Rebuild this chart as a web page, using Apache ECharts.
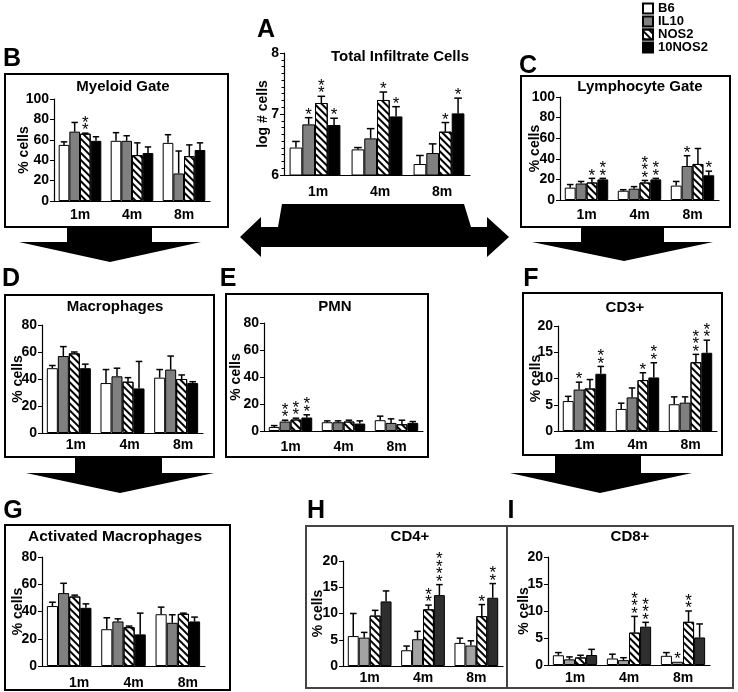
<!DOCTYPE html>
<html><head><meta charset="utf-8">
<script src="https://cdn.jsdelivr.net/npm/echarts@6/dist/echarts.min.js"></script>
<style>html,body{margin:0;padding:0;background:#fff}#c{width:738px;height:692px}</style>
</head><body><div id="c"></div>
<script>
// ---------- data ----------
const months = ['1m', '4m', '8m'];
const strains = ['B6', 'IL10', 'NOS2', '10NOS2'];

// rows: B6, IL10, NOS2, 10NOS2 ; columns: 1m, 4m, 8m
const A_mean = [[6.45, 6.42, 6.18], [6.83, 6.60, 6.36], [7.18, 7.23, 6.71], [6.82, 6.96, 7.01]];
const A_err  = [[6.55, 6.45, 6.32], [6.94, 6.76, 6.51], [7.29, 7.36, 6.86], [6.93, 7.12, 7.26]];
const A_star = [[0, 0, 0], [1, 0, 0], [2, 1, 1], [1, 1, 1]];

const B_mean = [[55, 59, 57], [68, 59, 27], [66, 45, 44], [59, 47, 50]];
const B_err  = [[58, 67, 65], [77, 64, 49], [66.5, 57, 55], [63, 53, 57]];
const B_star = [[0, 0, 0], [0, 0, 0], [2, 0, 0], [0, 0, 0]];

const C_mean = [[12, 9, 14], [16, 11, 33], [17, 17, 35], [20, 20, 24]];
const C_err  = [[15, 10, 18], [18, 13, 43], [21, 19, 50], [21, 21, 28]];
const C_star = [[0, 0, 0], [0, 0, 1], [1, 3, 0], [2, 2, 1]];

const D_mean = [[48, 37, 41], [57, 42, 47], [59, 38, 40], [48, 33, 37]];
const D_err  = [[50, 47, 47], [64, 48, 57], [60, 41, 43], [51, 53, 38]];
const D_star = [[0, 0, 0], [0, 0, 0], [0, 0, 0], [0, 0, 0]];

const E_mean = [[3, 6.5, 8], [7, 6.5, 6], [8.5, 7, 5], [10, 5.5, 6]];
const E_err  = [[4, 7.5, 11], [8, 7.5, 9], [9.5, 8, 8], [12, 7.5, 7]];
const E_star = [[0, 0, 0], [2, 0, 0], [2, 0, 0], [2, 0, 0]];

const F_mean = [[5.7, 4.2, 5.1], [7.9, 6.4, 5.4], [8.1, 9.7, 13.1], [10.9, 10.2, 14.9]];
const F_err  = [[6.6, 5.3, 6.5], [9.3, 8.2, 6.5], [9.8, 11.1, 14.6], [12.3, 13.0, 17.3]];
const F_star = [[0, 0, 0], [1, 0, 0], [0, 1, 3], [2, 2, 2]];

const G_mean = [[44, 27, 38], [53.5, 32.7, 31.7], [51, 28.5, 38.3], [42.7, 23.2, 32.7]];
const G_err  = [[46.8, 35.4, 43.2], [60.7, 34.6, 37.6], [52, 29.3, 38.8], [45.6, 38.8, 35.9]];
const G_star = [[0, 0, 0], [0, 0, 0], [0, 0, 0], [0, 0, 0]];

const H_mean = [[5.7, 3.0, 4.4], [5.4, 5.1, 3.9], [9.6, 10.8, 9.5], [12.3, 13.5, 13.0]];
const H_err  = [[10, 3.8, 5.3], [6.4, 6.6, 4.8], [10.6, 11.6, 11.7], [14.3, 15.5, 15.7]];
const H_star = [[0, 0, 0], [0, 0, 0], [0, 2, 1], [0, 4, 2]];

const I_mean = [[1.8, 1.2, 1.7], [1.05, 0.9, 0.6], [1.4, 6.0, 8.0], [1.85, 7.1, 5.1]];
const I_err  = [[2.3, 2.0, 2.3], [1.5, 1.35, 0.6], [1.8, 9.0, 10.0], [2.9, 7.9, 7.6]];
const I_star = [[0, 0, 0], [0, 0, 1], [0, 3, 2], [0, 3, 0]];

// ---------- layout ----------
const FONT = "'Liberation Sans', Arial, sans-serif";
const NARROW = "'Liberation Sans Narrow', 'Liberation Sans', Arial, sans-serif";
const GAP = 0.18;

const panels = [
  { mean: A_mean, err: A_err, star: A_star, min: 6, max: 8, interval: 1, name: 'log # cells', nameGap: 14,
    grid: { left: 284, top: 53, width: 186, height: 122 }, margin: 10, shift: 3, minor: true },
  { mean: B_mean, err: B_err, star: B_star, min: 0, max: 100, interval: 20, name: '% cells', nameGap: 23,
    grid: { left: 54, top: 99, width: 156, height: 102 }, margin: 7, shift: 0 },
  { mean: C_mean, err: C_err, star: C_star, min: 0, max: 100, interval: 20, name: '% cells', nameGap: 18,
    grid: { left: 560, top: 97, width: 159, height: 103 }, margin: 8, shift: 0 },
  { mean: D_mean, err: D_err, star: D_star, min: 0, max: 80, interval: 20, name: '% cells', nameGap: 17,
    grid: { left: 42, top: 325, width: 161, height: 108 }, margin: 5, shift: 7 },
  { mean: E_mean, err: E_err, star: E_star, min: 0, max: 80, interval: 20, name: '% cells', nameGap: 21,
    grid: { left: 264, top: 323, width: 159, height: 108 }, margin: 9, shift: 0 },
  { mean: F_mean, err: F_err, star: F_star, min: 0, max: 20, interval: 5, name: '% cells', nameGap: 15,
    grid: { left: 558, top: 326, width: 159, height: 105 }, margin: 7, shift: 0 },
  { mean: G_mean, err: G_err, star: G_star, min: 0, max: 80, interval: 20, name: '% cells', nameGap: 17,
    grid: { left: 42, top: 557, width: 163, height: 109 }, margin: 10, shift: 10 },
  { mean: H_mean, err: H_err, star: H_star, min: 0, max: 20, interval: 5, name: '% cells', nameGap: 18, light: true,
    grid: { left: 343, top: 561, width: 160, height: 105 }, margin: 5, shift: 0 },
  { mean: I_mean, err: I_err, star: I_star, min: 0, max: 20, interval: 5, name: '% cells', nameGap: 17, light: true,
    grid: { left: 548, top: 557, width: 162, height: 108 }, margin: 6, shift: 0 }
];

const hatch = { symbol: 'rect', symbolSize: 1, dashArrayX: [1, 0], dashArrayY: [2, 2.5],
  rotation: Math.PI / 4, color: '#000', backgroundColor: null };

function barStyle(s, light) {
  const fills = light ? ['#ffffff', '#a3a3a3', '#ffffff', '#2e2e2e'] : ['#ffffff', '#808080', '#ffffff', '#000000'];
  const st = { color: fills[s], borderColor: '#000', borderWidth: 1 };
  if (s === 2) st.decal = hatch;
  return st;
}

function renderErr(params, api) {
  const ci = api.value(0), mean = api.value(1), err = api.value(2), s = api.value(3), ns = api.value(4);
  const c = api.coord([ci, mean]);
  const t = api.coord([ci, err]);
  const band = api.size([1, 0])[0];
  const bw = band * (1 - GAP) / 4;
  const x = c[0] + (s - 1.5) * bw;
  const capW = bw * 0.6;
  const ch = [];
  if (err > mean) {
    ch.push({ type: 'line', shape: { x1: x, y1: c[1], x2: x, y2: t[1] }, style: { stroke: '#000', lineWidth: 1.5 } });
    ch.push({ type: 'line', shape: { x1: x - capW / 2, y1: t[1], x2: x + capW / 2, y2: t[1] }, style: { stroke: '#000', lineWidth: 1.5 } });
  }
  for (let k = 0; k < ns; k++) {
    ch.push({ type: 'text', style: { text: '*', x: x, y: t[1] - 2.5 - k * 7.5, align: 'center', verticalAlign: 'middle',
      fontSize: 17, fontFamily: FONT, fill: '#000' } });
  }
  return { type: 'group', children: ch };
}

const grids = [], xAxes = [], yAxes = [], series = [];
panels.forEach((p, i) => {
  grids.push(Object.assign({ containLabel: false }, p.grid));
  xAxes.push({
    type: 'category', gridIndex: i, data: months,
    axisLine: { lineStyle: { color: '#000', width: 1.2 } },
    axisTick: { alignWithLabel: true, length: 5, lineStyle: { color: '#000' } },
    axisLabel: { color: '#000', fontWeight: 'bold', fontSize: 14, fontFamily: FONT, margin: p.margin,
      padding: [0, 0, 0, p.shift * 2] }
  });
  yAxes.push({
    type: 'value', gridIndex: i, min: p.min, max: p.max, interval: p.interval,
    name: p.name, nameLocation: 'middle', nameGap: p.nameGap, nameMoveOverlap: false,
    nameTextStyle: { color: '#000', fontWeight: 'bold', fontSize: 14, fontFamily: FONT },
    axisLine: { show: true, lineStyle: { color: '#000', width: 1.2 } },
    axisTick: { show: true, length: 4, lineStyle: { color: '#000' } },
    minorTick: p.minor ? { show: true, splitNumber: 9, length: 2.5, lineStyle: { color: '#000' } } : { show: false },
    splitLine: { show: false },
    axisLabel: { color: '#000', fontWeight: 'bold', fontSize: 14, fontFamily: FONT, margin: 5 }
  });
  for (let s = 0; s < 4; s++) {
    series.push({
      type: 'bar', name: strains[s], xAxisIndex: i, yAxisIndex: i,
      data: p.mean[s], barGap: '0%', barCategoryGap: (GAP * 100) + '%',
      itemStyle: barStyle(s, p.light), clip: true, silent: true, animation: false
    });
  }
  const ed = [];
  for (let s = 0; s < 4; s++) for (let m = 0; m < 3; m++) ed.push([m, p.mean[s][m], p.err[s][m], s, p.star[s][m]]);
  series.push({ type: 'custom', name: 'err' + i, xAxisIndex: i, yAxisIndex: i, data: ed,
    renderItem: renderErr, z: 5, clip: false, silent: true, animation: false });
});

// ---------- decorations ----------
function title(text, x, y, size) {
  return { type: 'text', silent: true, style: { text, x, y, align: 'center', verticalAlign: 'middle',
    fontSize: size || 15, fontWeight: 'bold', fontFamily: FONT, fill: '#000' } };
}
function letter(text, x, y, fam) {
  return { type: 'text', silent: true, style: { text, x, y, align: 'center', verticalAlign: 'middle',
    fontSize: 25, fontWeight: 'bold', fontFamily: fam || FONT, fill: '#000' } };
}
function box(x1, y1, x2, y2, col) {
  return { type: 'rect', silent: true, z: 0, shape: { x: x1, y: y1, width: x2 - x1, height: y2 - y1 },
    style: { fill: 'none', stroke: col || '#000', lineWidth: 2 } };
}
function poly(points) {
  return { type: 'polygon', silent: true, shape: { points }, style: { fill: '#000' } };
}
function downArrow(rx1, rx2, ytop, ymid, tx1, tx2, tipx, tipy) {
  return poly([[rx1, ytop], [rx2, ytop], [rx2, ymid], [tx2, ymid], [tipx, tipy], [tx1, ymid], [rx1, ymid]]);
}

const graphics = [
  box(5, 74, 228, 227), box(521, 76, 730, 227),
  box(5, 295, 214, 457), box(226, 294, 428, 457), box(523, 293, 722, 455),
  box(5, 525, 230, 690), box(306, 526, 733, 688, '#444'),
  { type: 'line', silent: true, shape: { x1: 507, y1: 526, x2: 507, y2: 688 }, style: { stroke: '#444', lineWidth: 2 } },
  title('Total Infiltrate Cells', 400, 57, 15), title('Myeloid Gate', 123, 87), title('Lymphocyte Gate', 640, 87),
  title('Macrophages', 115, 307), title('PMN', 335, 307), title('CD3+', 625, 308),
  title('Activated Macrophages', 115, 537, 15.5), title('CD4+', 410, 537), title('CD8+', 630, 537),
  letter('A', 266, 30), letter('B', 12, 59), letter('C', 528, 66),
  letter('D', 11, 279, NARROW), letter('E', 228, 279, NARROW), letter('F', 531, 279, NARROW),
  letter('G', 13, 511, NARROW), letter('H', 316, 511, NARROW), letter('I', 511, 511, NARROW),
  downArrow(67, 152, 227, 242, 19, 201, 110, 262),
  downArrow(581, 664, 227, 242, 532, 713, 624, 261),
  downArrow(75, 162, 457, 473, 26, 214, 120, 493),
  downArrow(555, 641, 455, 473, 510, 692, 600, 493),
  poly([[282, 204], [464, 204], [471, 227], [487, 227], [487, 217], [509, 237], [487, 257], [487, 247],
        [261, 247], [261, 257], [240, 237], [261, 217], [261, 227], [278, 227]])
];

const chart = echarts.init(document.getElementById('c'), null, { renderer: 'canvas' });
chart.setOption({
  animation: false,
  backgroundColor: '#fff',
  legend: {
    data: strains, orient: 'vertical', left: 642, top: 2, itemWidth: 10, itemHeight: 10, itemGap: 0,
    padding: 0, icon: 'rect', selectedMode: false,
    textStyle: { color: '#000', fontWeight: 'bold', fontSize: 13, lineHeight: 13, fontFamily: FONT }
  },
  grid: grids, xAxis: xAxes, yAxis: yAxes, series,
  graphic: graphics
});
</script>
</body></html>
